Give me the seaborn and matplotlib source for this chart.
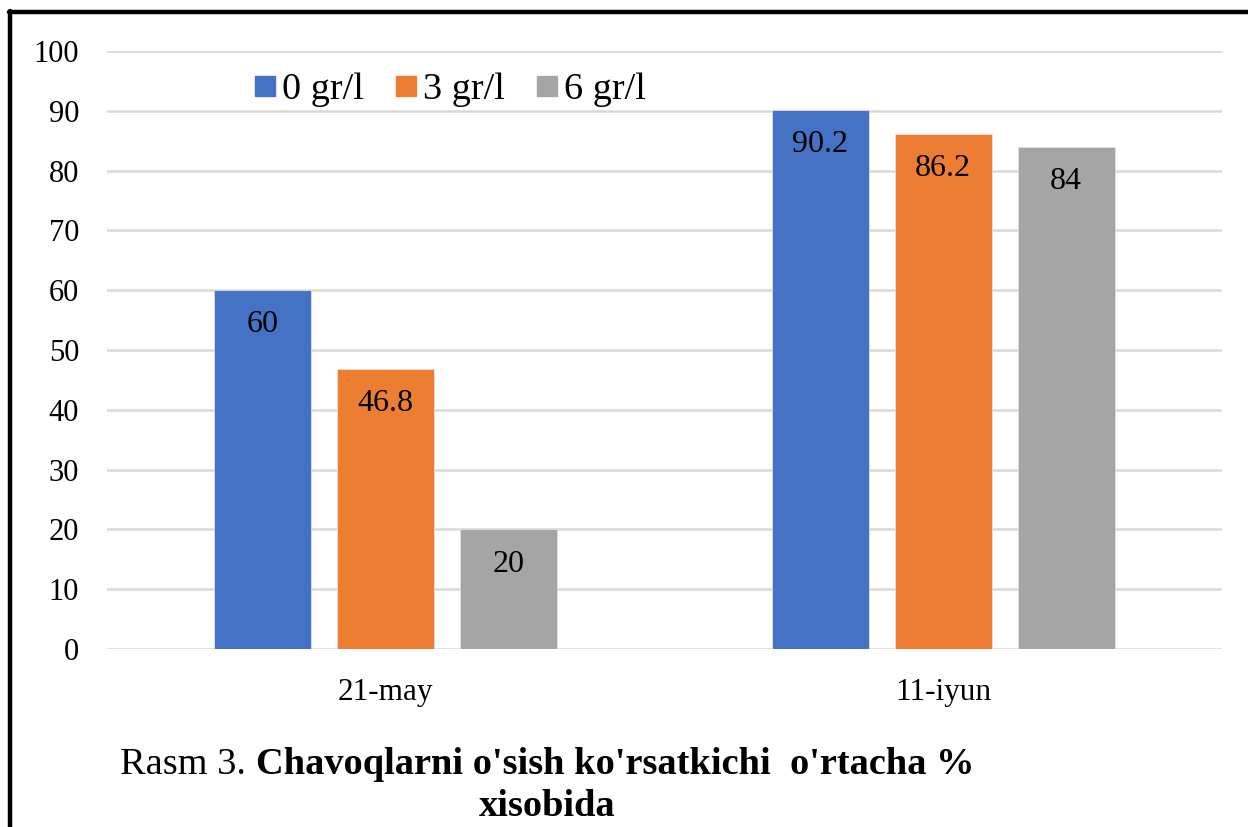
import pandas as pd
import matplotlib.pyplot as plt
import seaborn as sns
from matplotlib.lines import Line2D

# chart data
dates = ['21-may', '11-iyun']
series = ['0 gr/l', '3 gr/l', '6 gr/l']
values_0 = [60, 90.2]
values_3 = [46.8, 86.2]
values_6 = [20, 84]
colors = ['#4472C4', '#ED7D31', '#A5A5A5']

df = pd.DataFrame({
    'date': dates * 3,
    'dose': [series[0]] * 2 + [series[1]] * 2 + [series[2]] * 2,
    'value': values_0 + values_3 + values_6,
})

sns.set_theme(style='white')
plt.rcParams['font.family'] = ['Liberation Serif', 'DejaVu Serif']
plt.rcParams['text.color'] = 'black'

fig = plt.figure(figsize=(12.48, 8.27), dpi=100)
fig.patch.set_facecolor('white')
ax = fig.add_axes([0.0857, 0.2152, 0.8933, 0.7231])

sns.barplot(data=df, x='date', y='value', hue='dose', palette=colors,
            saturation=1, width=0.662, gap=0.211, ax=ax, legend=False,
            errorbar=None, edgecolor='#e0e0e0', linewidth=0.6, zorder=3)

ax.set_ylim(0, 100)
ax.set_xlim(-0.5, 1.5)
ax.set_yticks(range(0, 101, 10))
ax.yaxis.grid(True, color='#D9D9D9', linewidth=1.8, zorder=0)
ax.set_axisbelow(True)
for s in ax.spines.values():
    s.set_visible(False)
ax.tick_params(axis='y', length=0, pad=20, labelsize=22, labelcolor='black')
ax.tick_params(axis='x', length=0, pad=21, labelsize=22.5, labelcolor='black')
ax.set_xlabel('')
ax.set_ylabel('')

# value labels inside the bars, just under the top
for cont in ax.containers:
    for bar in cont:
        h = bar.get_height()
        ax.annotate(f'{h:g}', xy=(bar.get_x() + bar.get_width() / 2, h),
                    xytext=(0, -25), textcoords='offset points',
                    ha='center', va='center', fontsize=23, color='black',
                    zorder=5)

handles = [Line2D([], [], marker='s', linestyle='', markersize=15,
                  markerfacecolor=c, markeredgecolor=c) for c in colors]
ax.legend(handles, series, loc='upper left', bbox_to_anchor=(0.1175, 0.99),
          ncol=3, frameon=False, fontsize=27.5, handlelength=0.6,
          handletextpad=0.15, columnspacing=0.8, borderaxespad=0,
          labelcolor='black')

# caption: "Rasm 3." normal + bold rest, second line centered
fig.canvas.draw()
r = fig.canvas.get_renderer()
cap_size = 27.6
y1 = 1 - 765 / 827
t1 = fig.text(0, y1, 'Rasm 3. ', fontsize=cap_size, va='center', color='black')
t2 = fig.text(0, y1, "Chavoqlarni o'sish ko'rsatkichi  o'rtacha %",
              fontsize=cap_size, fontweight='bold', va='center', color='black')
w1 = t1.get_window_extent(r).width
w2 = t2.get_window_extent(r).width
cx = 547
x0 = cx - (w1 + w2) / 2
t1.set_x(x0 / 1248)
t2.set_x((x0 + w1) / 1248)
fig.text(cx / 1248, 1 - 807 / 827, 'xisobida', fontsize=cap_size,
         fontweight='bold', ha='center', va='center', color='black')

# outer frame (left and top black edges)
fig.add_artist(Line2D([10 / 1248, 10 / 1248], [0, 1 - 11 / 827],
                      color='black', linewidth=3.2))
fig.add_artist(Line2D([8.5 / 1248, 1], [1 - 11.5 / 827, 1 - 11.5 / 827],
                      color='black', linewidth=3.2))

fig.savefig('out.png', dpi=100, facecolor='white')
